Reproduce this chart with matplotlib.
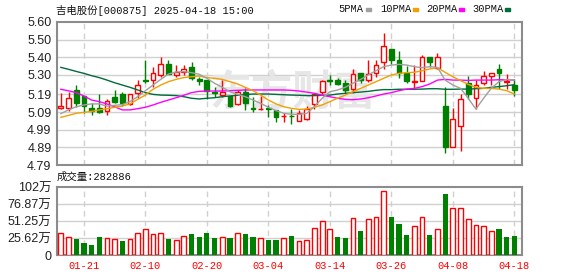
import matplotlib
matplotlib.use('Agg')
import matplotlib.pyplot as plt
from matplotlib.patches import Rectangle
import numpy as np

# daily k-line data, 吉电股份 000875
dates = ['01-16', '01-17', '01-20', '01-21', '01-22', '01-23', '01-24', '01-27',
         '02-05', '02-06', '02-07', '02-10', '02-11', '02-12', '02-13', '02-14',
         '02-17', '02-18', '02-19', '02-20', '02-21', '02-24', '02-25', '02-26',
         '02-27', '02-28', '03-03', '03-04', '03-05', '03-06', '03-07', '03-10',
         '03-11', '03-12', '03-13', '03-14', '03-17', '03-18', '03-19', '03-20',
         '03-21', '03-24', '03-25', '03-26', '03-27', '03-28', '03-31', '04-01',
         '04-02', '04-03', '04-07', '04-08', '04-09', '04-10', '04-11', '04-14',
         '04-15', '04-16', '04-17', '04-18']
opens = [5.115, 5.115, 5.213, 5.181, 5.115, 5.113, 5.094, 5.173, 5.192, 5.136,
         5.196, 5.271, 5.271, 5.300, 5.360, 5.300, 5.315, 5.343, 5.275, 5.271,
         5.206, 5.185, 5.181, 5.136, 5.205, 5.111, 5.105, 5.111, 5.102, 5.066,
         5.070, 5.041, 5.049, 5.136, 5.202, 5.273, 5.271, 5.256, 5.219, 5.309,
         5.271, 5.309, 5.375, 5.447, 5.385, 5.309, 5.260, 5.268, 5.400, 5.341,
         5.124, 4.894, 5.013, 5.256, 5.168, 5.256, 5.296, 5.334, 5.260, 5.243]
highs = [5.200, 5.202, 5.243, 5.183, 5.139, 5.192, 5.164, 5.215, 5.203, 5.190,
         5.271, 5.385, 5.347, 5.400, 5.385, 5.356, 5.356, 5.371, 5.290, 5.271,
         5.234, 5.271, 5.181, 5.215, 5.224, 5.177, 5.183, 5.130, 5.102, 5.083,
         5.107, 5.102, 5.124, 5.200, 5.271, 5.300, 5.281, 5.271, 5.332, 5.313,
         5.385, 5.385, 5.540, 5.447, 5.436, 5.353, 5.356, 5.413, 5.400, 5.426,
         5.230, 5.115, 5.192, 5.294, 5.271, 5.322, 5.309, 5.360, 5.305, 5.275]
lows = [5.105, 5.096, 5.117, 5.083, 5.075, 5.086, 5.075, 5.143, 5.124, 5.130,
        5.168, 5.253, 5.234, 5.290, 5.305, 5.287, 5.300, 5.271, 5.243, 5.162,
        5.177, 5.177, 5.117, 5.130, 5.102, 5.092, 5.101, 5.064, 5.035, 5.032,
        5.022, 5.041, 5.045, 5.109, 5.190, 5.243, 5.243, 5.196, 5.196, 5.253,
        5.262, 5.290, 5.332, 5.360, 5.285, 5.256, 5.224, 5.268, 5.343, 5.332,
        4.860, 4.894, 4.871, 5.164, 5.105, 5.243, 5.243, 5.220, 5.220, 5.183]
closes = [5.124, 5.171, 5.143, 5.126, 5.096, 5.090, 5.151, 5.149, 5.139, 5.190,
          5.243, 5.268, 5.309, 5.360, 5.305, 5.315, 5.332, 5.285, 5.268, 5.209,
          5.200, 5.205, 5.124, 5.203, 5.143, 5.105, 5.107, 5.107, 5.060, 5.068,
          5.066, 5.086, 5.105, 5.190, 5.266, 5.268, 5.247, 5.215, 5.304, 5.271,
          5.305, 5.356, 5.464, 5.385, 5.313, 5.266, 5.264, 5.400, 5.375, 5.400,
          4.894, 5.049, 5.164, 5.192, 5.243, 5.294, 5.309, 5.309, 5.264, 5.215]
# volume in 万手, 1 = red bar, 0 = green bar
volumes = [33.2, 26.6, 24.1, 18.6, 15.1, 27.1, 25.6, 24.1, 21.1, 24.1,
           33.2, 39.2, 31.7, 33.2, 24.1, 22.6, 28.6, 31.7, 27.1, 33.2,
           25.6, 26.6, 25.6, 32.7, 31.7, 26.6, 25.1, 22.6, 22.6, 25.1,
           28.6, 20.6, 22.6, 40.2, 50.8, 38.7, 27.1, 25.6, 55.3, 36.2,
           53.8, 56.8, 96.0, 57.3, 46.7, 30.2, 43.2, 56.8, 30.2, 38.7,
           92.0, 70.4, 70.4, 53.8, 44.7, 43.2, 35.7, 39.2, 27.1, 28.29]
vol_up = [1, 1, 0, 0, 0, 0, 1, 1, 0, 1, 1, 1, 1, 1, 0, 1, 1, 0, 0, 0,
          0, 1, 0, 1, 0, 0, 1, 0, 0, 1, 0, 1, 1, 1, 1, 1, 0, 0, 1, 0,
          1, 1, 1, 0, 0, 0, 1, 1, 0, 1, 0, 1, 1, 1, 1, 1, 1, 0, 0, 0]

# moving averages as drawn on the chart
ma5 = [5.081, 5.102, 5.120, 5.130, 5.136, 5.136, 5.124, 5.128, 5.132, 5.149,
       5.177, 5.211, 5.243, 5.275, 5.305, 5.317, 5.319, 5.313, 5.304, 5.281,
       5.253, 5.230, 5.205, 5.190, 5.177, 5.158, 5.139, 5.117, 5.098, 5.083,
       5.077, 5.077, 5.083, 5.120, 5.168, 5.205, 5.215, 5.230, 5.253, 5.275,
       5.300, 5.324, 5.347, 5.356, 5.360, 5.356, 5.347, 5.341, 5.347, 5.343,
       5.271, 5.243, 5.224, 5.168, 5.107, 5.168, 5.224, 5.262, 5.275, 5.271]
ma10 = [5.060, 5.071, 5.083, 5.088, 5.094, 5.102, 5.109, 5.117, 5.124, 5.136,
        5.162, 5.186, 5.219, 5.243, 5.262, 5.275, 5.285, 5.290, 5.294, 5.285,
        5.281, 5.275, 5.262, 5.249, 5.230, 5.211, 5.186, 5.158, 5.136, 5.120,
        5.111, 5.105, 5.107, 5.117, 5.130, 5.149, 5.168, 5.186, 5.205, 5.224,
        5.243, 5.262, 5.281, 5.300, 5.309, 5.313, 5.315, 5.324, 5.334, 5.341,
        5.315, 5.290, 5.268, 5.247, 5.230, 5.224, 5.224, 5.220, 5.211, 5.192]
ma20 = [5.219, 5.210, 5.200, 5.181, 5.158, 5.149, 5.136, 5.120, 5.102, 5.102,
        5.109, 5.117, 5.130, 5.145, 5.158, 5.171, 5.185, 5.200, 5.207, 5.209,
        5.209, 5.209, 5.211, 5.213, 5.215, 5.215, 5.215, 5.215, 5.215, 5.215,
        5.213, 5.209, 5.203, 5.196, 5.185, 5.177, 5.168, 5.162, 5.160, 5.164,
        5.171, 5.181, 5.192, 5.200, 5.211, 5.220, 5.224, 5.234, 5.249, 5.271,
        5.275, 5.271, 5.271, 5.269, 5.271, 5.271, 5.271, 5.273, 5.273, 5.271]
ma30 = [5.343, 5.332, 5.320, 5.309, 5.296, 5.285, 5.271, 5.256, 5.243, 5.230,
        5.215, 5.200, 5.190, 5.186, 5.185, 5.183, 5.177, 5.168, 5.164, 5.168,
        5.171, 5.177, 5.181, 5.185, 5.188, 5.192, 5.192, 5.192, 5.190, 5.188,
        5.186, 5.185, 5.183, 5.183, 5.185, 5.186, 5.192, 5.196, 5.200, 5.203,
        5.207, 5.213, 5.217, 5.217, 5.219, 5.219, 5.219, 5.220, 5.222, 5.222,
        5.219, 5.219, 5.220, 5.220, 5.222, 5.224, 5.230, 5.234, 5.239, 5.245]

price_ticks = [4.79, 4.89, 4.99, 5.09, 5.19, 5.30, 5.40, 5.50, 5.60]
vol_ticks = [0, 25.625, 51.25, 76.875, 102.5]
vol_labels = ['0', '25.62万', '51.25万', '76.87万', '102万']
date_ticks = [3, 11, 19, 27, 35, 43, 51, 59]

UP = '#ff0000'
DOWN = '#008000'
GRID = '#d0d0d0'
FRAME = '#8c8c8c'
SANS = ['Liberation Sans', 'Noto Sans CJK SC']
MONO = ['Liberation Mono', 'Noto Sans CJK SC']

W, H = 578, 276
fig = plt.figure(figsize=(W / 100, H / 100), dpi=100)
ax = fig.add_axes([57 / W, 1 - 165 / H, 465 / W, 143 / H])
axv = fig.add_axes([57 / W, 1 - 255 / H, 465 / W, 68 / H])

x = np.arange(len(dates))

# price panel
for i in x:
    o, c = opens[i], closes[i]
    color = UP if c > o else DOWN
    ax.vlines(i, lows[i], highs[i], color=color, lw=1, zorder=2)
    body = max(abs(c - o), 0.004)
    ax.bar(i, body, 0.62, bottom=min(o, c), facecolor='white' if c > o else DOWN,
           edgecolor=color, lw=1, zorder=3)

ax.plot(x, ma30, color='#006b3c', lw=1.0, zorder=4)
ax.plot(x, ma20, color='#ff00ff', lw=1.0, zorder=4)
ax.plot(x, ma10, color='#f0a000', lw=1.0, zorder=4)
ax.plot(x, ma5, color='#a0a0a0', lw=1.0, zorder=4)

ax.text(0.508, 0.51, '东方财富', transform=ax.transAxes, fontsize=30,
        color='#e6e6e6', fontweight='bold', family='Noto Sans CJK SC',
        ha='center', va='center', zorder=1)

ax.set_xlim(-0.5, 60)
ax.set_ylim(4.79, 5.60)
ax.set_yticks(price_ticks)
ax.set_yticklabels(['%.2f' % v for v in price_ticks])
ax.set_xticks([])
for v in price_ticks[1:-1]:
    ax.axhline(v, color=GRID, lw=1, zorder=0)

# volume panel
for i in x:
    if vol_up[i]:
        axv.bar(i, volumes[i], 0.62, facecolor='white', edgecolor=UP, lw=1, zorder=3)
    else:
        axv.bar(i, volumes[i], 0.68, color=DOWN, lw=0, zorder=3)

axv.set_xlim(-0.5, 60)
axv.set_ylim(0, 102.5)
axv.set_yticks(vol_ticks)
axv.set_yticklabels(vol_labels)
axv.set_xticks(date_ticks)
axv.set_xticklabels([dates[i] for i in date_ticks])
for v in vol_ticks[1:-1]:
    axv.axhline(v, color=GRID, lw=1, zorder=0)

for a in (ax, axv):
    for i in date_ticks:
        a.axvline(i, color=GRID, lw=1, ls=(0, (4, 3)), zorder=0)
    for s in a.spines.values():
        s.set_color(FRAME)
        s.set_linewidth(1.5)
    a.tick_params(length=0, pad=4)
    for lab in a.get_yticklabels():
        lab.set_fontfamily(SANS)
        lab.set_fontsize(9)
        lab.set_color('#222222')

for lab in axv.get_xticklabels():
    lab.set_fontfamily(MONO)
    lab.set_fontsize(7.5)
    lab.set_color(UP)

# header and legend
fig.text(56 / W, 1 - 10 / H, '吉电股份[000875] 2025-04-18 15:00', family=MONO,
         fontsize=7.5, va='center', color='#111111')
legend = [('5PMA', 338, 366, '#a0a0a0'), ('10PMA', 380, 413, '#f0a000'),
          ('20PMA', 426, 459, '#ff00ff'), ('30PMA', 472, 505, '#006b3c')]
for name, tx, sx, col in legend:
    fig.text(tx / W, 1 - 9.5 / H, name, family=MONO, fontsize=7.5,
             va='center', color='#111111')
    fig.patches.append(Rectangle((sx / W, 1 - 11 / H), 5 / W, 3.5 / H,
                                 transform=fig.transFigure, color=col))

fig.text(57 / W, 1 - 177 / H, '成交量:282886', family=MONO, fontsize=7.5,
         va='center', color='#111111')

fig.savefig('out.png', dpi=100)
